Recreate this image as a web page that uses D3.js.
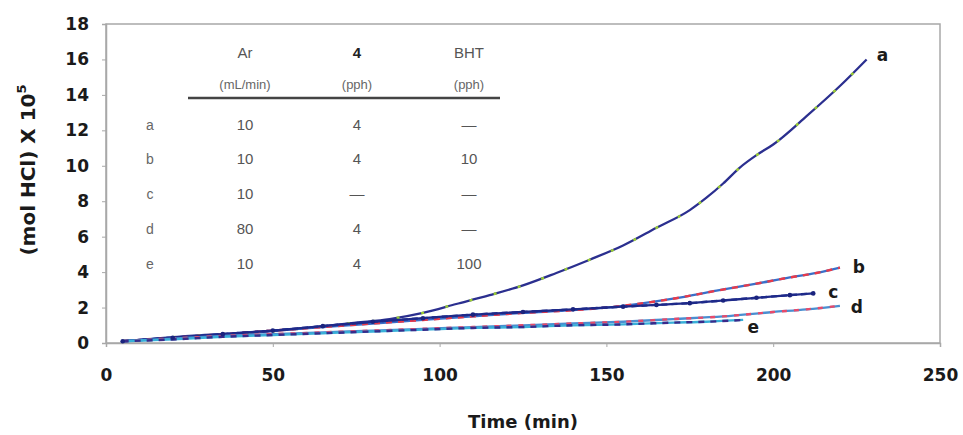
<!DOCTYPE html>
<html><head><meta charset="utf-8">
<script src="https://cdn.jsdelivr.net/npm/d3@7"></script>
<style>body{margin:0;background:#fff}svg{display:block}</style>
</head><body><svg id="c" width="963" height="435"></svg>
<script>
const xTicks = [0,50,100,150,200,250];
const yTicks = [0,2,4,6,8,10,12,14,16,18];
const seriesNames = ["a","b","c","d","e"];
const tA = [5,15,25,35,45,55,65,75,85,95,105,115,125,135,145,155,165,175,180,185,190,195,200,210,220,228];
const vA = [0.1,0.25,0.4,0.5,0.6,0.75,0.95,1.15,1.35,1.7,2.2,2.7,3.25,3.95,4.7,5.5,6.5,7.5,8.2,9.0,9.9,10.6,11.2,12.8,14.5,16.0];
const tB = [5,20,35,50,65,80,95,110,125,140,155,170,183,195,205,213,220];
const vB = [0.1,0.3,0.5,0.7,0.9,1.1,1.3,1.5,1.7,1.85,2.1,2.5,2.95,3.35,3.7,3.95,4.25];
const tC = [5,20,35,50,65,80,95,110,125,140,155,165,175,185,195,205,212];
const vC = [0.1,0.3,0.5,0.7,0.95,1.2,1.4,1.6,1.75,1.9,2.05,2.15,2.25,2.4,2.55,2.7,2.8];
const tD = [5,20,35,50,65,80,95,110,125,140,155,170,185,200,210,220];
const vD = [0.1,0.25,0.4,0.5,0.6,0.7,0.8,0.9,1.0,1.1,1.2,1.35,1.5,1.75,1.9,2.1];
const tE = [5,20,35,50,65,80,95,110,125,140,155,170,180,191];
const vE = [0.1,0.2,0.35,0.45,0.55,0.65,0.75,0.85,0.9,1.0,1.05,1.15,1.2,1.3];
const tableHead = ["Ar","4","BHT"];
const tableUnits = ["(mL/min)","(pph)","(pph)"];
const tableAr = ["10","10","10","80","10"];
const table4 = ["4","4","—","4","4"];
const tableBHT = ["—","10","—","—","100"];

const svg = d3.select("#c");
const L=106,R=940,T=24,B=343;
const x = d3.scaleLinear().domain([0,250]).range([L,R]);
const y = d3.scaleLinear().domain([0,18]).range([B,T]);
const bf = "'DejaVu Sans', Verdana, sans-serif";
const tf = "Arial, 'Liberation Sans', sans-serif";

svg.append("rect").attr("x",L).attr("y",T).attr("width",R-L).attr("height",B-T)
  .attr("fill","none").attr("stroke","#a8a8a8").attr("stroke-width",1.5);

const xa = svg.append("g").attr("transform",`translate(0,${B})`)
  .call(d3.axisBottom(x).tickValues(xTicks).tickSize(4).tickPadding(22));
const ya = svg.append("g").attr("transform",`translate(${L},0)`)
  .call(d3.axisLeft(y).tickValues(yTicks).tickSize(4).tickPadding(13));
[xa,ya].forEach(g=>{
  g.select(".domain").attr("stroke","#a8a8a8").attr("stroke-width",1.5);
  g.selectAll(".tick line").attr("stroke","#a8a8a8");
  g.selectAll(".tick text").attr("font-family",bf)
   .attr("font-size",17).attr("font-weight","bold").attr("fill","#1a1a1a");
});

svg.append("text").attr("x",523).attr("y",428).attr("text-anchor","middle")
  .attr("font-family",bf).attr("font-size",18).attr("font-weight","bold")
  .attr("fill","#1a1a1a").text("Time (min)");
const yt = svg.append("text").attr("transform","translate(35,170) rotate(-90)").attr("text-anchor","middle")
  .attr("font-family",bf).attr("font-size",20).attr("font-weight","bold").attr("fill","#1a1a1a");
yt.append("tspan").text("(mol HCl) X 10");
yt.append("tspan").attr("dy",-9).attr("font-size",13).text("5");

const line = d3.line().x(d=>x(d[0])).y(d=>y(d[1])).curve(d3.curveMonotoneX);
const zip=(t,v)=>t.map((d,i)=>[d,v[i]]);
const data = [zip(tA,vA),zip(tB,vB),zip(tC,vC),zip(tD,vD),zip(tE,vE)];
const styles = [
  {base:"#2b2f8f", over:"#9acd32", dash:"3 22"},
  {base:"#3a6fc8", over:"#e83a4a", dash:"6 6"},
  {base:"#1e2a8a", over:"#1e2a8a", dash:"6 4"},
  {base:"#4a8ed0", over:"#e84a6a", dash:"5 7"},
  {base:"#38b0d8", over:"#3a2a8a", dash:"6 6"}
];
const g = svg.append("g");
data.forEach((d,i)=>{
  const s=styles[i];
  g.append("path").datum(d).attr("d",line).attr("fill","none").attr("stroke",s.base).attr("stroke-width",2.3);
  g.append("path").datum(d).attr("d",line).attr("fill","none").attr("stroke",s.over).attr("stroke-width",2.4)
    .attr("stroke-dasharray",s.dash);
});
g.selectAll(".mc").data(data[2]).enter().append("circle").attr("cx",d=>x(d[0])).attr("cy",d=>y(d[1]))
  .attr("r",2.3).attr("fill","#1a237e");

const ends = data.map(d=>d[d.length-1]);
const labOff=[[16,-4],[19,-1],[20,-1],[17,1],[10,7]];
seriesNames.forEach((n,i)=>{
  svg.append("text").attr("x",x(ends[i][0])+labOff[i][0]).attr("y",y(ends[i][1])+labOff[i][1]+6)
    .attr("text-anchor","middle").attr("font-family",bf)
    .attr("font-size",17).attr("font-weight","bold").attr("fill","#1a1a1a").text(n);
});

const colX=[245,357,469];
tableHead.forEach((h,i)=>{
  svg.append("text").attr("x",colX[i]).attr("y",58).attr("text-anchor","middle").attr("font-family",tf)
    .attr("font-size",15).attr("font-weight",i==1?"bold":"normal").attr("fill",i==1?"#222":"#555").text(h);
  svg.append("text").attr("x",colX[i]).attr("y",89).attr("text-anchor","middle").attr("font-family",tf)
    .attr("font-size",13).attr("fill","#666").text(tableUnits[i]);
});
svg.append("line").attr("x1",188).attr("x2",500).attr("y1",98).attr("y2",98).attr("stroke","#444").attr("stroke-width",2.5);
const rowY=[125,159,194,229,264];
seriesNames.forEach((n,r)=>{
  const cells=[tableAr[r],table4[r],tableBHT[r]];
  svg.append("text").attr("x",150).attr("y",rowY[r]+5).attr("text-anchor","middle").attr("font-family",tf)
    .attr("font-size",14).attr("fill","#666").text(n);
  cells.forEach((c,i)=>{
    svg.append("text").attr("x",colX[i]).attr("y",rowY[r]+5).attr("text-anchor","middle").attr("font-family",tf)
      .attr("font-size",15).attr("fill","#555").text(c);
  });
});
</script></body></html>
